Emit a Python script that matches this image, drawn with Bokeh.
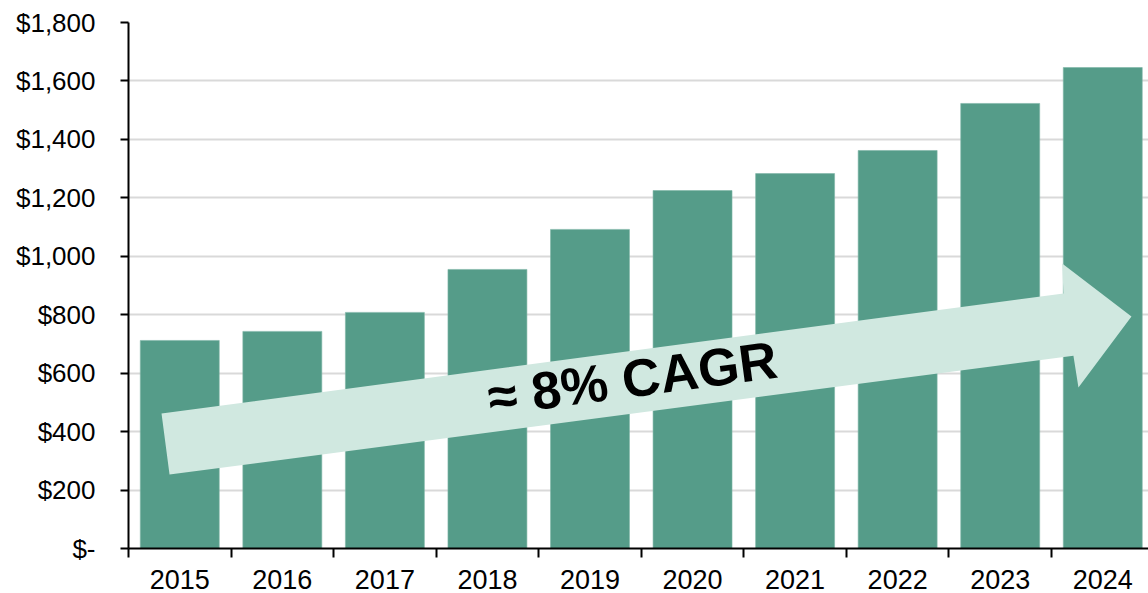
from bokeh.plotting import figure
from bokeh.models import Range1d, FixedTicker, ColumnDataSource
from bokeh.embed import file_html
from bokeh.resources import INLINE
from bokeh.core.properties import value
import math

years = ["2015", "2016", "2017", "2018", "2019", "2020", "2021", "2022", "2023", "2024"]
amounts = [712, 743, 808, 955, 1092, 1225, 1283, 1362, 1523, 1646]
y_ticks = [0, 200, 400, 600, 800, 1000, 1200, 1400, 1600, 1800]
y_tick_labels = ["$-", "$200", "$400", "$600", "$800", "$1,000", "$1,200", "$1,400", "$1,600", "$1,800"]
arrow_x = [0.322, 9.117, 9.104, 9.780, 9.263, 9.214, 0.400]
arrow_y = [462, 873, 975, 794, 551, 660, 253]
label_text = ["≈ 8% CAGR"]
label_x = [4.914]
label_y = [582]

FONT = "Liberation Sans"
BAR = "#559C89"
ARROW = "#D0E8E0"

p = figure(width=1148, height=593, output_backend="svg", toolbar_location=None,
           x_range=Range1d(0, 9.946), y_range=Range1d(0, 1800),
           min_border_left=128, min_border_top=22, min_border_right=0,
           min_border_bottom=45)
p.outline_line_color = None
p.background_fill_color = "white"
p.border_fill_color = "white"

centers = [i + 0.5 for i in range(len(years))]
src = ColumnDataSource(dict(x=centers, top=amounts))
p.vbar(x="x", top="top", width=0.77, bottom=0, source=src,
       fill_color=BAR, line_color="#7DB5A6", line_width=0.6)

p.patch(arrow_x, arrow_y, fill_color=ARROW, line_color=None)

p.text(x=label_x, y=label_y, text=label_text, angle=math.radians(7.6),
       text_align="center", text_baseline="middle",
       text_font=value(FONT), text_font_style="bold",
       text_font_size="53px", text_color="black")

# x axis
xa = p.xaxis[0]
xa.ticker = FixedTicker(ticks=centers, minor_ticks=list(range(0, 11)))
xa.major_label_overrides = {c: y for c, y in zip(centers, years)}
xa.major_tick_line_color = None
xa.minor_tick_line_color = "black"
xa.minor_tick_line_width = 2
xa.minor_tick_out = 9
xa.minor_tick_in = 0
xa.axis_line_color = "black"
xa.axis_line_width = 2
xa.major_label_text_font = FONT
xa.major_label_text_font_size = "27px"
xa.major_label_text_color = "black"
xa.major_label_standoff = 12

# y axis
ya = p.yaxis[0]
ya.ticker = FixedTicker(ticks=y_ticks, minor_ticks=[])
ya.major_label_overrides = {t: l for t, l in zip(y_ticks, y_tick_labels)}
ya.major_tick_line_color = "black"
ya.major_tick_line_width = 2
ya.major_tick_out = 8
ya.major_tick_in = 0
ya.minor_tick_line_color = None
ya.axis_line_color = "black"
ya.axis_line_width = 2
ya.major_label_text_font = FONT
ya.major_label_text_font_size = "26px"
ya.major_label_text_color = "black"
ya.major_label_standoff = 25

p.xgrid.grid_line_color = None
p.ygrid.grid_line_color = "#D9D9D9"
p.ygrid.grid_line_width = 2
p.ygrid.level = "underlay"

open("out.html", "w").write(file_html(p, INLINE))
